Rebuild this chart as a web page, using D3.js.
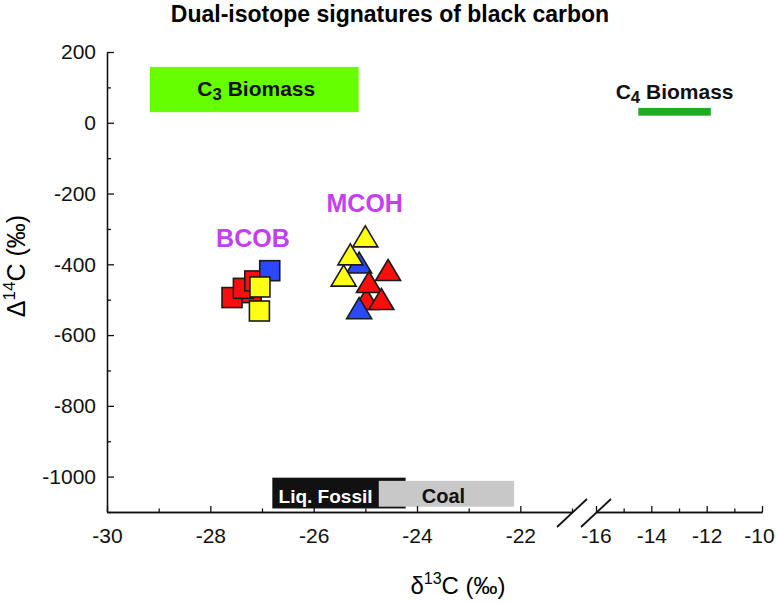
<!DOCTYPE html>
<html>
<head>
<meta charset="utf-8">
<script src="https://cdn.jsdelivr.net/npm/d3@7"></script>
<style>
  body { margin: 0; background: #fff; }
  svg { font-family: "Liberation Sans", Arial, Helvetica, sans-serif; }
</style>
</head>
<body>
<svg id="chart" width="776" height="603"></svg>
<script>
// ---- data ----
// BCOB squares (draw order)
const bcobD13C = [-27.21, -27.58, -27.36, -27.14, -26.85, -27.04, -27.05];
const bcobD14C = [-480, -494, -468, -447, -418, -464, -532];
const bcobGroup = ["r", "r", "r", "r", "b", "y", "y"];

// MCOH triangles (draw order)
const mcohD13C = [-25.12, -24.98, -24.93, -24.69, -24.56, -25.42, -25.29, -25.00, -25.12];
const mcohD14C = [-395, -498, -450, -498, -416, -432, -372, -321, -524];
const mcohGroup = ["b", "r", "r", "r", "r", "y", "y", "y", "b"];

// source end-member boxes
const sourceNames = ["C3 Biomass", "C4 Biomass", "Liq. Fossil", "Coal"];
const sourceD13C = [[-29.17, -25.13], [-14.47, -11.85], [-26.8, -24.22], [-24.74, -22.12]];
const sourceD14C = [[30, 158], [20, 42], [-1090, -1003], [-1085, -1012]];

const xMajorLeft = [-30, -28, -26, -24, -22];
const xMinorLeft = [-29, -27, -25, -23, -21];
const xMajorRight = [-16, -14, -12, -10];
const xMinorRight = [-15, -13, -11];
const yMajor = [200, 0, -200, -400, -600, -800, -1000];
const yMinor = [100, -100, -300, -500, -700, -900, -1100];

const groupColor = { r: "#ff0d0d", y: "#ffff14", b: "#2b48ff" };

// ---- layout ----
const svg = d3.select("#chart");
const axisY = 512;

const xLeft = d3.scaleLinear().domain([-30, -21]).range([107, 572]);
const xRight = d3.scaleLinear().domain([-16, -10]).range([596, 762]);
const x = v => v <= -21 ? xLeft(v) : xRight(v);
const y = d3.scaleLinear().domain([-1100, 200]).range([axisY, 52]);

const plain = d => String(d); // keep hyphen-minus like the original

// title
svg.append("text")
    .attr("x", 390)
    .attr("y", 22)
    .attr("text-anchor", "middle")
    .style("font-size", "23px")
    .style("font-weight", "bold")
    .text("Dual-isotope signatures of black carbon");

// source boxes
const boxFill = ["#66ff00", "#22aa22", "#111111", "#c8c8c8"];
sourceNames.forEach((name, i) => {
    const [a, b] = sourceD13C[i];
    const [lo, hi] = sourceD14C[i];
    svg.append("rect")
        .attr("x", x(a))
        .attr("y", y(hi))
        .attr("width", x(b) - x(a))
        .attr("height", y(lo) - y(hi))
        .attr("fill", boxFill[i]);
});

// box labels
function subLabel(txt, sub, rest, cx, cy, size, fill) {
    const t = svg.append("text")
        .attr("x", cx)
        .attr("y", cy)
        .attr("text-anchor", "middle")
        .style("font-size", size + "px")
        .style("font-weight", "bold")
        .style("fill", fill);
    t.append("tspan").text(txt);
    if (sub) {
        t.append("tspan").attr("dy", 4).style("font-size", (size * 0.8) + "px").text(sub);
        t.append("tspan").attr("dy", -4).text(rest);
    }
    return t;
}

subLabel("C", "3", " Biomass",
    (x(sourceD13C[0][0]) + x(sourceD13C[0][1])) / 2 + 2, 96, 21, "#111");
subLabel("C", "4", " Biomass",
    (x(sourceD13C[1][0]) + x(sourceD13C[1][1])) / 2, 99, 21, "#111");
subLabel("Liq. Fossil", null, null,
    (x(sourceD13C[2][0]) + x(sourceD13C[3][0])) / 2, 503, 19, "#fff");
subLabel("Coal", null, null,
    (x(sourceD13C[3][0]) + x(sourceD13C[3][1])) / 2 - 3, 503, 20, "#111");

// ---- axes ----
function styleAxis(g) {
    g.select(".domain").attr("stroke", "#111").attr("stroke-width", 1.3);
    g.selectAll(".tick line").attr("stroke", "#111").attr("stroke-width", 1.3);
    g.selectAll(".tick text")
        .attr("fill", "#111")
        .style("font-size", "21px")
        .style("font-family", "Liberation Sans, Arial, sans-serif");
}

// x: left segment
svg.append("g")
    .attr("transform", `translate(0,${axisY})`)
    .call(d3.axisBottom(xLeft).tickValues(xMajorLeft).tickFormat(plain)
        .tickSize(-6).tickSizeOuter(0).tickPadding(16))
    .call(styleAxis);
svg.append("g")
    .attr("transform", `translate(0,${axisY})`)
    .call(d3.axisBottom(xLeft).tickValues(xMinorLeft).tickSize(-3.5).tickSizeOuter(0).tickFormat(""))
    .call(styleAxis);

// x: right segment
const rightAxis = svg.append("g")
    .attr("transform", `translate(0,${axisY})`)
    .call(d3.axisBottom(xRight).tickValues(xMajorRight).tickFormat(plain)
        .tickSize(-6).tickSizeOuter(0).tickPadding(16))
    .call(styleAxis);
// last label sits on the page edge, nudge it in
rightAxis.selectAll(".tick text").filter(d => d === -10).attr("dx", -3);

svg.append("g")
    .attr("transform", `translate(0,${axisY})`)
    .call(d3.axisBottom(xRight).tickValues(xMinorRight).tickSize(-3.5).tickSizeOuter(0).tickFormat(""))
    .call(styleAxis);

// axis break marks
[xLeft(-21), xRight(-16)].forEach(cx => {
    svg.append("line")
        .attr("x1", cx - 15).attr("y1", axisY + 15)
        .attr("x2", cx + 15).attr("y2", axisY - 13)
        .attr("stroke", "#111")
        .attr("stroke-width", 1.8);
});

// y axis
svg.append("g")
    .attr("transform", `translate(${xLeft(-30)},0)`)
    .call(d3.axisLeft(y).tickValues(yMajor).tickFormat(plain)
        .tickSize(-7).tickSizeOuter(0).tickPadding(11))
    .call(styleAxis);
svg.append("g")
    .attr("transform", `translate(${xLeft(-30)},0)`)
    .call(d3.axisLeft(y).tickValues(yMinor).tickSize(-4).tickSizeOuter(0).tickFormat(""))
    .call(styleAxis);

// axis titles
const xt = svg.append("text")
    .attr("x", 458)
    .attr("y", 594)
    .attr("text-anchor", "middle")
    .style("font-size", "24px");
xt.append("tspan").text("δ");
xt.append("tspan").attr("dy", -10).style("font-size", "16px").text("13");
xt.append("tspan").attr("dy", 10).text("C (‰)");

const yt = svg.append("text")
    .attr("transform", "translate(25,266) rotate(-90)")
    .attr("text-anchor", "middle")
    .style("font-size", "25px");
yt.append("tspan").text("Δ");
yt.append("tspan").attr("dy", -10).style("font-size", "17px").text("14");
yt.append("tspan").attr("dy", 10).text("C (‰)");

// ---- markers ----
const sq = 20;
const bcob = bcobD13C.map((v, i) => ({ x: v, y: bcobD14C[i], g: bcobGroup[i] }));
svg.append("g")
    .selectAll("rect")
    .data(bcob)
    .join("rect")
    .attr("x", d => x(d.x) - sq / 2)
    .attr("y", d => y(d.y) - sq / 2)
    .attr("width", sq)
    .attr("height", sq)
    .attr("fill", d => groupColor[d.g])
    .attr("stroke", "#1a1a1a")
    .attr("stroke-width", 1.6);

const triW = 25, triH = 21;
const triPath = `M0,${-triH / 2}L${triW / 2},${triH / 2}L${-triW / 2},${triH / 2}Z`;
const mcoh = mcohD13C.map((v, i) => ({ x: v, y: mcohD14C[i], g: mcohGroup[i] }));
svg.append("g")
    .selectAll("path")
    .data(mcoh)
    .join("path")
    .attr("d", triPath)
    .attr("transform", d => `translate(${x(d.x)},${y(d.y)})`)
    .attr("fill", d => groupColor[d.g])
    .attr("stroke", "#1a1a1a")
    .attr("stroke-width", 1.6)
    .attr("stroke-linejoin", "miter");

// group labels
const purple = "#c43ff2";
function groupLabel(name, pts, half) {
    const cx = d3.mean(pts, d => x(d.x));
    const top = d3.min(pts, d => y(d.y)) - half;
    svg.append("text")
        .attr("x", cx)
        .attr("y", top - 14)
        .attr("text-anchor", "middle")
        .style("font-size", "25px")
        .style("font-weight", "bold")
        .style("fill", purple)
        .text(name);
}
groupLabel("BCOB", bcob, sq / 2);
groupLabel("MCOH", mcoh, triH / 2);
</script>
</body>
</html>
